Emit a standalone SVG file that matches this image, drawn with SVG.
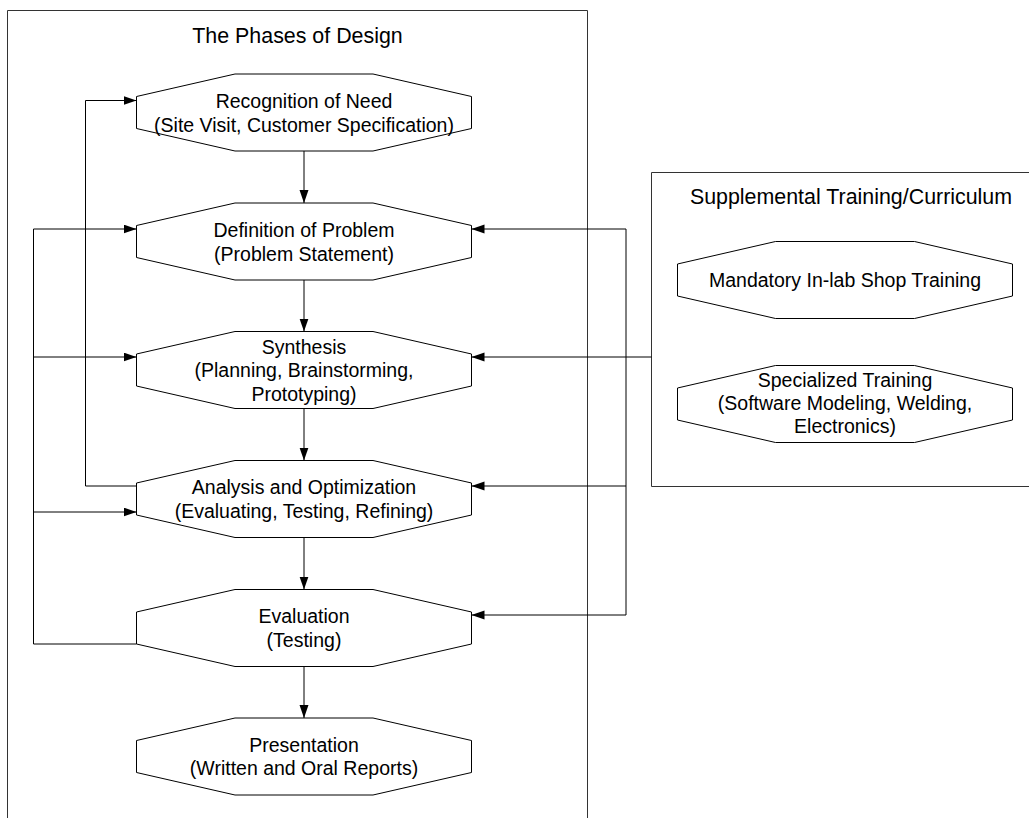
<svg xmlns="http://www.w3.org/2000/svg" width="1029" height="818" viewBox="0 0 1029 818">
<defs>
<marker id="ah" markerUnits="userSpaceOnUse" markerWidth="14" markerHeight="10" refX="13" refY="4.5" orient="auto">
<path d="M0,0 L13,4.5 L0,9 z" fill="#000"/>
</marker>
<style>
.box{fill:none;stroke:#333;stroke-width:1}
.oct{fill:#fff;stroke:#000;stroke-width:1}
.arr{fill:none;stroke:#000;stroke-width:1;marker-end:url(#ah)}
text{font-family:"Liberation Sans",Arial,sans-serif;font-size:19.5px;fill:#000;text-anchor:middle}
.ttl{font-size:21.4px}
</style>
</defs>
<rect width="1029" height="818" fill="#fff"/>
<g id="container-phases">
<path class="box" d="M7.5,830 V10.5 H587.5 V830"/>
<text class="ttl" x="297.5" y="42.5">The Phases of Design</text>
</g>
<g id="container-supplemental">
<path class="box" d="M1060,172.5 H651.5 V486.5 H1060"/>
<text class="ttl" x="851" y="204">Supplemental Training/Curriculum</text>
</g>
<g id="connectors">
<path class="arr" d="M304,151 V203"/>
<path class="arr" d="M304,280 V331.5"/>
<path class="arr" d="M304,408.5 V460.5"/>
<path class="arr" d="M304,537.5 V589.5"/>
<path class="arr" d="M304,666.5 V718"/>
<path class="arr" d="M136.5,486 H85.5 V100.5 H136.5"/>
<path class="arr" d="M136.5,644 H33.5 V229 H136.5"/>
<path class="arr" d="M33.5,357 H136.5"/>
<path class="arr" d="M33.5,512 H136.5"/>
<path class="arr" d="M626,615 V229 H471.5"/>
<path class="arr" d="M626,486 H471.5"/>
<path class="arr" d="M626,615 H471.5"/>
<path class="arr" d="M651.5,357 H471.5"/>
</g>
<g id="node-recognition">
<polygon class="oct" points="235,74 373,74 471.5,96.5 471.5,128.5 373,151 235,151 136.5,128.5 136.5,96.5"/>
<text x="304" y="108">Recognition of Need</text>
<text x="304" y="131.5">(Site Visit, Customer Specification)</text>
</g>
<g id="node-definition">
<polygon class="oct" points="235,203 373,203 471.5,225.5 471.5,257.5 373,280 235,280 136.5,257.5 136.5,225.5"/>
<text x="304" y="237">Definition of Problem</text>
<text x="304" y="260.5">(Problem Statement)</text>
</g>
<g id="node-synthesis">
<polygon class="oct" points="235,331.5 373,331.5 471.5,354 471.5,386 373,408.5 235,408.5 136.5,386 136.5,354"/>
<text x="304" y="353.5">Synthesis</text>
<text x="304" y="377">(Planning, Brainstorming,</text>
<text x="304" y="400.5">Prototyping)</text>
</g>
<g id="node-analysis">
<polygon class="oct" points="235,460.5 373,460.5 471.5,483 471.5,515 373,537.5 235,537.5 136.5,515 136.5,483"/>
<text x="304" y="494">Analysis and Optimization</text>
<text x="304" y="517.5">(Evaluating, Testing, Refining)</text>
</g>
<g id="node-evaluation">
<polygon class="oct" points="235,589.5 373,589.5 471.5,612 471.5,644 373,666.5 235,666.5 136.5,644 136.5,612"/>
<text x="304" y="623">Evaluation</text>
<text x="304" y="646.5">(Testing)</text>
</g>
<g id="node-presentation">
<polygon class="oct" points="235,718 373,718 471.5,740.5 471.5,772.5 373,795 235,795 136.5,772.5 136.5,740.5"/>
<text x="304" y="751.5">Presentation</text>
<text x="304" y="775">(Written and Oral Reports)</text>
</g>
<g id="node-mandatory">
<polygon class="oct" points="775.5,241.5 914.5,241.5 1012.5,264 1012.5,296 914.5,318.5 775.5,318.5 677.5,296 677.5,264"/>
<text x="845" y="287">Mandatory In-lab Shop Training</text>
</g>
<g id="node-specialized">
<polygon class="oct" points="775.5,365.5 914.5,365.5 1012.5,388 1012.5,420 914.5,442.5 775.5,442.5 677.5,420 677.5,388"/>
<text x="845" y="387">Specialized Training</text>
<text x="845" y="410">(Software Modeling, Welding,</text>
<text x="845" y="433">Electronics)</text>
</g>
</svg>
